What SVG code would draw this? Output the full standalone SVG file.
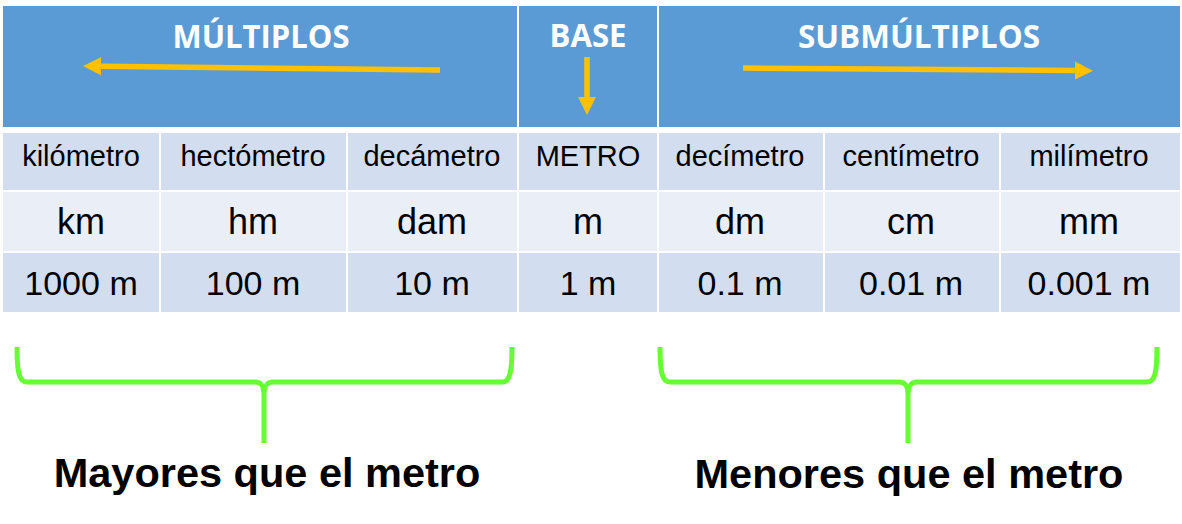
<svg xmlns="http://www.w3.org/2000/svg" width="1182" height="524" viewBox="0 0 1182 524">
<style>
.hdr{fill:#5B9BD5}
.r1{fill:#D2DEEF}
.r2{fill:#EAEFF7}
.ht{font-family:"Open Sans","Liberation Sans",sans-serif;font-weight:700;font-size:31.5px;fill:#FFFFFF;text-anchor:middle}
.nm{font-family:"Liberation Sans",Arial,sans-serif;font-size:29px;fill:#000;text-anchor:middle}
.sy{font-family:"Liberation Sans",Arial,sans-serif;font-size:36px;fill:#000;text-anchor:middle}
.vl{font-family:"Liberation Sans",Arial,sans-serif;font-size:34px;fill:#000;text-anchor:middle}
.bt{font-family:"Liberation Sans",Arial,sans-serif;font-weight:700;font-size:41.5px;fill:#000;text-anchor:middle}
.arr{stroke:#FFC000;stroke-width:5.5;fill:none}
.brace{stroke:#66FF33;stroke-width:5;fill:none;stroke-linecap:butt}
</style>
<defs>
<marker id="ah" markerUnits="userSpaceOnUse" markerWidth="19" markerHeight="19" refX="0" refY="9" orient="auto" viewBox="0 0 19 18">
<path d="M0,0 L18,9 L0,18 z" fill="#FFC000"/>
</marker>
</defs>
<rect width="1182" height="524" fill="#FFFFFF"/>
<g id="header">
<g id="h-multiplos"><rect class="hdr" x="3" y="6" width="514" height="121"/><text class="ht" x="261" y="48" textLength="177" lengthAdjust="spacingAndGlyphs">MÚLTIPLOS</text></g>
<g id="h-base"><rect class="hdr" x="519" y="6" width="138" height="121"/><text class="ht" x="588" y="47" textLength="77" lengthAdjust="spacingAndGlyphs">BASE</text></g>
<g id="h-sub"><rect class="hdr" x="659" y="6" width="521" height="121"/><text class="ht" x="919" y="48" textLength="242" lengthAdjust="spacingAndGlyphs">SUBMÚLTIPLOS</text></g>
</g>
<g id="col-km">
<rect class="r1" x="3" y="133" width="156" height="57"/><rect class="r2" x="3" y="192" width="156" height="59"/><rect class="r1" x="3" y="253" width="156" height="59"/>
<text class="nm" x="81" y="166">kilómetro</text><text class="sy" x="81" y="234">km</text><text class="vl" x="81" y="295">1000 m</text>
</g>
<g id="col-hm">
<rect class="r1" x="161" y="133" width="185" height="57"/><rect class="r2" x="161" y="192" width="185" height="59"/><rect class="r1" x="161" y="253" width="185" height="59"/>
<text class="nm" x="253" y="166">hectómetro</text><text class="sy" x="253" y="234">hm</text><text class="vl" x="253" y="295">100 m</text>
</g>
<g id="col-dam">
<rect class="r1" x="348" y="133" width="169" height="57"/><rect class="r2" x="348" y="192" width="169" height="59"/><rect class="r1" x="348" y="253" width="169" height="59"/>
<text class="nm" x="432" y="166">decámetro</text><text class="sy" x="432" y="234">dam</text><text class="vl" x="432" y="295">10 m</text>
</g>
<g id="col-m">
<rect class="r1" x="519" y="133" width="138" height="57"/><rect class="r2" x="519" y="192" width="138" height="59"/><rect class="r1" x="519" y="253" width="138" height="59"/>
<text class="nm" x="588" y="166">METRO</text><text class="sy" x="588" y="234">m</text><text class="vl" x="588" y="295">1 m</text>
</g>
<g id="col-dm">
<rect class="r1" x="659" y="133" width="164" height="57"/><rect class="r2" x="659" y="192" width="164" height="59"/><rect class="r1" x="659" y="253" width="164" height="59"/>
<text class="nm" x="740" y="166">decímetro</text><text class="sy" x="740" y="234">dm</text><text class="vl" x="740" y="295">0.1 m</text>
</g>
<g id="col-cm">
<rect class="r1" x="825" y="133" width="174" height="57"/><rect class="r2" x="825" y="192" width="174" height="59"/><rect class="r1" x="825" y="253" width="174" height="59"/>
<text class="nm" x="911" y="166">centímetro</text><text class="sy" x="911" y="234">cm</text><text class="vl" x="911" y="295">0.01 m</text>
</g>
<g id="col-mm">
<rect class="r1" x="1001" y="133" width="179" height="57"/><rect class="r2" x="1001" y="192" width="179" height="59"/><rect class="r1" x="1001" y="253" width="179" height="59"/>
<text class="nm" x="1089" y="166">milímetro</text><text class="sy" x="1089" y="234">mm</text><text class="vl" x="1089" y="295">0.001 m</text>
</g>
<g id="connectors">
<path class="arr" d="M440,70 L101,66.3" marker-end="url(#ah)"/>
<path class="arr" d="M587,57 L587,97" marker-end="url(#ah)"/>
<path class="arr" d="M743,68 L1075,70.5" marker-end="url(#ah)"/>
<path class="brace" d="M17,347 C17,372 19,382 27,382 L255,382 C261,382 264,385 264,396 L264,443 M264,396 C264,385 267,382 273,382 L502,382 C510,382 512,372 512,347"/>
<path class="brace" d="M660,347 C660,372 662,382 670,382 L899,382 C905,382 908,385 908,396 L908,443 M908,396 C908,385 911,382 917,382 L1147,382 C1155,382 1157,372 1157,347"/>
</g>
<g id="labels">
<text class="bt" x="267" y="487">Mayores que el metro</text>
<text class="bt" x="909" y="488">Menores que el metro</text>
</g>
</svg>
